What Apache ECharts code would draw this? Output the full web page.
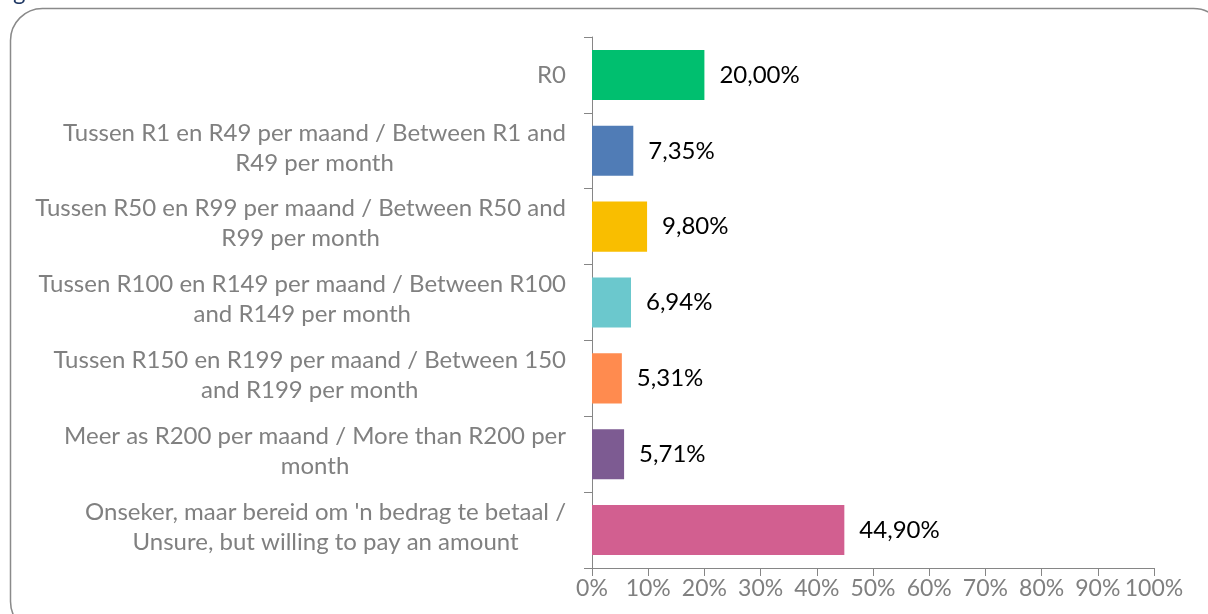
<!DOCTYPE html>
<html>
<head>
<meta charset="utf-8">
<script src="https://cdn.jsdelivr.net/npm/echarts@6/dist/echarts.min.js"></script>
<style>
html,body{margin:0;padding:0;background:#fff;}
#c{width:1208px;height:614px;}
</style>
</head>
<body>
<div id="c"></div>
<script>
const categories = [
  "R0",
  "Tussen R1 en R49 per maand / Between R1 and\nR49 per month",
  "Tussen R50 en R99 per maand / Between R50 and\nR99 per month",
  "Tussen R100 en R149 per maand / Between R100\nand R149 per month",
  "Tussen R150 en R199 per maand / Between 150\nand R199 per month",
  "Meer as R200 per maand / More than R200 per\nmonth",
  "Onseker, maar bereid om 'n bedrag te betaal /\nUnsure, but willing to pay an amount"
];
const values = [20.00, 7.35, 9.80, 6.94, 5.31, 5.71, 44.90];
const colors = ["#00BF6F", "#507CB6", "#F9BE00", "#6BC8CD", "#FF8B4F", "#7D5B92", "#D25F90"];
const xTicks = [0, 10, 20, 30, 40, 50, 60, 70, 80, 90, 100];

const chart = echarts.init(document.getElementById('c'));
const font = 'Lato';
chart.setOption({
  animation: false,
  textStyle: {fontFamily: font},
  graphic: [
    {type: 'rect', shape: {x: 10.5, y: 8.5, width: 1215, height: 625, r: 32},
     style: {fill: 'none', stroke: '#8a8a8a', lineWidth: 1.5}, silent: true},
    {type: 'text', x: 13, y: -20, style: {text: 'g', fill: '#1F3864', font: '24px Lato'}, silent: true}
  ],
  grid: {left: 592, right: 54, top: 37, bottom: 46, containLabel: false},
  xAxis: {
    type: 'value', min: xTicks[0], max: xTicks[xTicks.length - 1], interval: 10,
    axisLine: {show: true, lineStyle: {color: '#868686', width: 1}},
    axisTick: {show: true, length: 8, lineStyle: {color: '#868686'}},
    splitLine: {show: false},
    axisLabel: {formatter: '{value}%', color: '#808080', fontSize: 23, margin: 9, fontFamily: font}
  },
  yAxis: {
    type: 'category', inverse: true,
    data: categories.map(c => c.indexOf('\n') >= 0 ? {value: c, textStyle: {padding: [0, 0, 6, 0]}} : c),
    axisLine: {show: true, lineStyle: {color: '#868686', width: 1}},
    axisTick: {show: true, length: 8, lineStyle: {color: '#868686'}},
    axisLabel: {
      color: '#808080', fontSize: 24, margin: 26, lineHeight: 30, align: 'right', fontFamily: font,
      formatter: v => v.split('\n').map(l => '{c|' + l + '}').join('\n'),
      rich: {c: {align: 'center', color: '#808080', fontSize: 24, lineHeight: 30, fontFamily: font}}
    }
  },
  series: [{
    type: 'bar',
    barCategoryGap: '34%',
    data: values.map((v, i) => ({value: v, itemStyle: {color: colors[i]}})),
    label: {
      show: true, position: 'right', distance: 15, color: '#000', fontSize: 24, fontFamily: font,
      formatter: p => p.value.toFixed(2).replace('.', ',') + '%'
    }
  }]
});
</script>
</body>
</html>
